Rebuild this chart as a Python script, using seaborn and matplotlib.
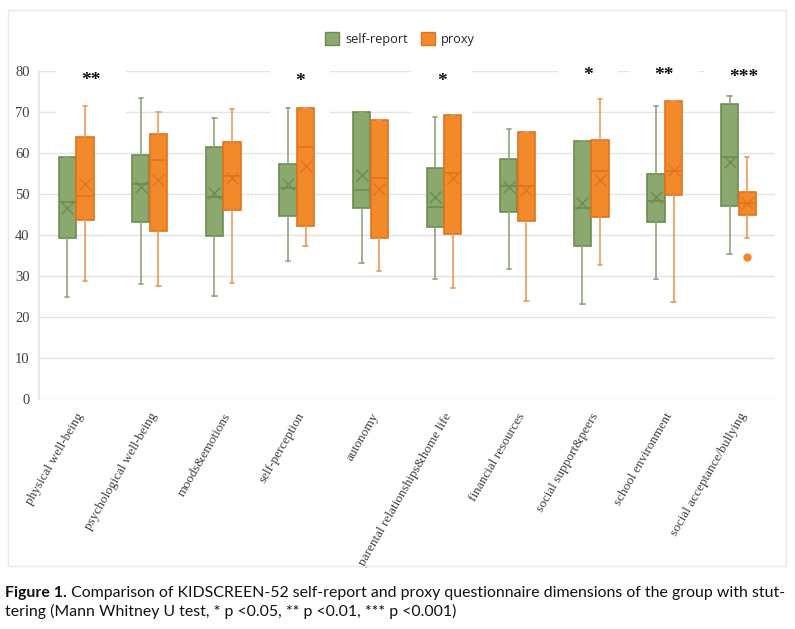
import matplotlib
matplotlib.use("Agg")
import matplotlib.pyplot as plt
from matplotlib.patches import Patch, Rectangle
import seaborn as sns

categories = ["physical well-being", "psychological well-being", "moods&emotions",
              "self-perception", "autonomy", "parental relationships&home life",
              "financial resources", "social support&peers", "school environment",
              "social acceptance/bullying"]

self_lo = [25.0, 28.1, 25.2, 33.7, 33.3, 29.2, 31.7, 23.2, 29.3, 35.4]
self_q1 = [39.3, 43.1, 39.8, 44.7, 46.5, 42.0, 45.7, 37.4, 43.2, 47.0]
self_med = [48.1, 52.5, 49.3, 51.4, 51.0, 46.9, 51.9, 46.6, 48.4, 59.0]
self_q3 = [58.9, 59.4, 61.5, 57.4, 69.9, 56.3, 58.6, 62.9, 54.9, 71.8]
self_hi = [58.9, 73.3, 68.5, 70.9, 69.9, 68.8, 65.9, 62.9, 71.5, 73.8]
self_mean = [46.5, 51.6, 50.3, 52.4, 54.7, 49.3, 51.8, 47.7, 49.3, 57.9]

proxy_lo = [28.7, 27.7, 28.3, 37.3, 31.3, 27.2, 24.0, 32.7, 23.8, 39.3]
proxy_q1 = [43.7, 41.1, 46.1, 42.3, 39.4, 40.2, 43.3, 44.5, 49.8, 44.8]
proxy_med = [49.5, 58.2, 54.4, 61.5, 53.9, 55.2, 52.0, 55.5, 55.7, 47.8]
proxy_q3 = [63.8, 64.5, 62.6, 71.0, 68.1, 69.2, 65.0, 63.2, 72.6, 50.5]
proxy_hi = [71.3, 69.9, 70.8, 71.0, 68.1, 69.2, 65.0, 73.1, 72.6, 58.9]
proxy_mean = [52.4, 53.3, 53.9, 56.9, 51.1, 54.0, 51.0, 53.5, 55.8, 47.8]
proxy_fliers = [[], [], [], [], [], [], [], [], [], [34.6]]

# significance marks: (category index, text)
sig_idx = [0, 3, 5, 7, 8, 9]
sig_txt = ["**", "*", "*", "*", "**", "***"]
sig_dx = [0.20, 0.04, -0.03, -0.04, -0.01, 0.07]
sig_y = [77.6, 77.4, 77.4, 78.8, 78.8, 78.4]

sns.set_theme(style="white")
plt.rcParams["font.family"] = ["Liberation Serif", "DejaVu Serif"]

green_fill, green_edge, green_line = "#8BA96F", "#6D8C52", "#8FA67C"
orange_fill, orange_edge, orange_line = "#F28A2C", "#E0731D", "#EE9A5A"

fig = plt.figure(figsize=(7.95, 6.29), dpi=100)
ax = fig.add_axes([0.0494, 0.365, 0.9256, 0.5226])

def make_stats(lo, q1, med, q3, hi, mean, fliers=None):
    out = []
    for i in range(len(lo)):
        out.append({"whislo": lo[i], "q1": q1[i], "med": med[i], "q3": q3[i],
                    "whishi": hi[i], "mean": mean[i],
                    "fliers": fliers[i] if fliers else []})
    return out

def draw(stats, offset, fill, edge, line):
    pos = [i + offset for i in range(len(stats))]
    ax.bxp(stats, positions=pos, widths=0.235, capwidths=0.06,
           patch_artist=True, showmeans=True, manage_ticks=False,
           boxprops=dict(facecolor=fill, edgecolor=edge, linewidth=1.2),
           medianprops=dict(color=edge, linewidth=1.2),
           whiskerprops=dict(color=line, linewidth=1.2),
           capprops=dict(color=line, linewidth=1.2),
           meanprops=dict(marker="x", markersize=9, markeredgecolor=edge,
                          markeredgewidth=1.0),
           flierprops=dict(marker="o", markersize=5, markerfacecolor=fill,
                           markeredgecolor=fill))

draw(make_stats(self_lo, self_q1, self_med, self_q3, self_hi, self_mean), -0.12,
     green_fill, green_edge, green_line)
draw(make_stats(proxy_lo, proxy_q1, proxy_med, proxy_q3, proxy_hi, proxy_mean, proxy_fliers),
     0.12, orange_fill, orange_edge, orange_line)

ax.set_xlim(-0.5, len(categories) - 0.5)
ax.set_ylim(0, 80)
ax.set_yticks(range(0, 81, 10))
ax.set_axisbelow(True)
ax.yaxis.grid(True, color="#e4e4e4", linewidth=1.0)
ax.xaxis.grid(False)
for s in ["top", "right", "bottom"]:
    ax.spines[s].set_visible(False)
ax.spines["left"].set_color("#e4e4e4")
ax.tick_params(axis="both", length=0, colors="#404040")
ax.tick_params(axis="y", labelsize=10.5, pad=7)
ax.set_xticks(range(len(categories)))
ax.set_xticklabels(categories, rotation=60, ha="right", rotation_mode="anchor",
                   fontsize=9.5)
ax.tick_params(axis="x", pad=8)

for i, t, dx, y in zip(sig_idx, sig_txt, sig_dx, sig_y):
    ax.text(i + dx, y, t, ha="center", va="center", fontsize=14, weight="bold",
            family="Liberation Serif", color="#111111", zorder=1, clip_on=False,
            bbox=dict(boxstyle="square,pad=1.3", facecolor="white", edgecolor="none"))

handles = [Patch(facecolor=green_fill, edgecolor=green_edge, label="self-report"),
           Patch(facecolor=orange_fill, edgecolor=orange_edge, label="proxy")]
fig.legend(handles=handles, loc="center", bbox_to_anchor=(0.503, 0.938), ncol=2,
           frameon=False, handlelength=1.1, handleheight=1.1, handletextpad=0.5,
           columnspacing=1.0, prop={"family": "Open Sans", "size": 9.2})

fig.add_artist(Rectangle((7.5 / 795, 1 - 565.7 / 629), 778 / 795, 555.7 / 629,
                         transform=fig.transFigure, fill=False,
                         edgecolor="#e8e8e8", linewidth=1.0))

t1 = fig.text(5 / 795, 1 - 597 / 629, "Figure 1.", fontsize=11.4, weight="bold",
              family="Lato", color="#111111", va="baseline")
ax.annotate(" Comparison of KIDSCREEN-52 self-report and proxy questionnaire dimensions of the group with stut-",
            xy=(1, 0), xycoords=t1, va="bottom", ha="left", fontsize=11.4,
            family="Lato", color="#111111", annotation_clip=False)
fig.text(5 / 795, 1 - 616 / 629,
         "tering (Mann Whitney U test, * p <0.05, ** p <0.01, *** p <0.001)",
         fontsize=11.4, family="Lato", color="#111111", va="baseline")

fig.savefig("out.png", dpi=100)
